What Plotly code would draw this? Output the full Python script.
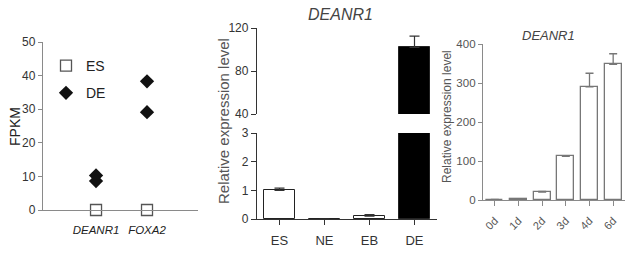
import plotly.graph_objects as go

W, H = 640, 258

# ---------------- data ----------------
# Panel A: FPKM
genes = ["DEANR1", "FOXA2"]
es_fpkm = [0.0, 0.0]
de_genes = ["DEANR1", "DEANR1", "FOXA2", "FOXA2"]
de_fpkm = [10.3, 8.6, 38.3, 29.1]

# Panel B: relative expression across cell types
cell_types = ["ES", "NE", "EB", "DE"]
cell_expr = [1.0, 0.0, 0.1, 102.0]
cell_err = [0.08, 0.0, 0.05, 10.5]

# Panel C: time course
days = ["0d", "1d", "2d", "3d", "4d", "6d"]
day_expr = [1.0, 1.5, 20.0, 112.0, 290.0, 348.0]
day_err = [0.5, 0.5, 2.0, 2.0, 35.0, 27.0]


def fx(px):
    return px / W


def fy(py):
    return (H - py) / H


GREY = "#8a8a8a"
DARK = "#333333"
FONT = "Liberation Sans, Arial, sans-serif"

fig = go.Figure()

# ---------- Panel A ----------
xmap = {g: i + 1 for i, g in enumerate(genes)}
fig.add_trace(go.Scatter(
    x=[xmap[g] for g in genes], y=es_fpkm, mode="markers", name="ES",
    marker=dict(symbol="square-open", size=11, color="#555555", line=dict(width=1.3)),
    cliponaxis=False, xaxis="x", yaxis="y", legendgroup="a",
))
fig.add_trace(go.Scatter(
    x=[xmap[g] for g in de_genes], y=de_fpkm, mode="markers", name="DE",
    marker=dict(symbol="diamond", size=11, color="#111111"),
    cliponaxis=False, xaxis="x", yaxis="y", legendgroup="b",
))

# ---------- Panel B (broken axis) ----------
for xa, ya in (("x2", "y2"), ("x3", "y3")):
    fig.add_trace(go.Bar(
        x=cell_types, y=cell_expr,
        marker=dict(
            color=["white", "white", "white", "black"],
            line=dict(color="#222222", width=1),
            pattern=dict(shape=["", "", "/", ""], fgcolor="#444444", size=4, solidity=0.3),
        ),
        width=0.67,
        error_y=dict(type="data", array=cell_err, arrayminus=[0] * 4,
                     color="#333333", thickness=1.2, width=5),
        xaxis=xa, yaxis=ya, showlegend=False,
    ))

# ---------- Panel C ----------
fig.add_trace(go.Bar(
    x=days, y=day_expr,
    marker=dict(color="white", line=dict(color="#777777", width=1.3)),
    width=0.72,
    error_y=dict(type="data", array=day_err, arrayminus=[0] * 6,
                 color="#777777", thickness=1.3, width=4),
    xaxis="x4", yaxis="y4", showlegend=False,
))

tickfont_b = dict(family=FONT, size=12, color="#333333")
common = dict(automargin=False, showgrid=False, zeroline=False)

fig.update_layout(
    template="none",
    width=W, height=H,
    margin=dict(l=0, r=0, t=0, b=0, pad=0),
    plot_bgcolor="white", paper_bgcolor="white",
    bargap=0,
    showlegend=True,
    legend=dict(x=fx(46), y=fy(50), xanchor="left", yanchor="top",
                font=dict(family=FONT, size=14, color="#222222"),
                bgcolor="rgba(0,0,0,0)", itemwidth=30, borderwidth=0,
                traceorder="grouped", tracegroupgap=6),
    # Panel A axes
    xaxis=dict(domain=[fx(43), fx(198)], range=[-0.04, 3.0],
               tickmode="array", tickvals=[1, 2],
               ticktext=["<i>%s</i>" % g for g in genes],
               tickfont=dict(family=FONT, size=11.5, color="#222222"),
               tickangle=0,
               showline=True, linecolor=GREY, linewidth=1.3, ticks="",
               ticklabelstandoff=9,
               anchor="y", **common),
    yaxis=dict(domain=[fy(210), fy(42)], range=[0, 50],
               tickvals=[0, 10, 20, 30, 40, 50],
               tickfont=dict(family=FONT, size=12, color="#333333"),
               showline=True, linecolor=GREY, linewidth=1.3,
               ticks="outside", ticklen=4, tickcolor=GREY,
               anchor="x", **common),
    # Panel B lower
    xaxis2=dict(domain=[fx(257), fx(437)], range=[-0.5, 3.5],
                tickfont=dict(family=FONT, size=13, color="#333333"),
                tickangle=0,
                showline=True, linecolor=DARK, linewidth=1.3,
                ticks="outside", ticklen=5, tickcolor=DARK, ticklabelstandoff=4,
                anchor="y2", **common),
    yaxis2=dict(domain=[fy(219), fy(133)], range=[0, 3],
                tickmode="array", tickvals=[0, 1, 2, 3], ticktext=["0", "1", "2", "3"],
                tickfont=tickfont_b, showticklabels=True,
                showline=True, linecolor=DARK, linewidth=1.3,
                ticks="outside", ticklen=5, tickcolor=DARK,
                anchor="x2", **common),
    # Panel B upper
    xaxis3=dict(domain=[fx(257), fx(437)], range=[-0.5, 3.5],
                showticklabels=False, showline=False, ticks="",
                anchor="y3", **common),
    yaxis3=dict(domain=[fy(114), fy(28)], range=[40, 120],
                tickmode="array", tickvals=[40, 80, 120], ticktext=["40", "80", "120"],
                tickfont=tickfont_b, showticklabels=True,
                showline=True, linecolor=DARK, linewidth=1.3,
                ticks="outside", ticklen=5, tickcolor=DARK,
                anchor="x3", **common),
    # Panel C
    xaxis4=dict(domain=[fx(483), fx(625)], range=[-0.5, 5.5],
                tickangle=-45, tickfont=dict(family=FONT, size=11, color="#555555"),
                showline=True, linecolor=GREY, linewidth=1.3,
                ticks="outside", ticklen=5, tickcolor=GREY, ticklabelstandoff=4,
                anchor="y4", **common),
    yaxis4=dict(domain=[fy(200), fy(44)], range=[0, 400],
                tickvals=[0, 100, 200, 300, 400],
                tickfont=dict(family=FONT, size=11.5, color="#555555"),
                showline=True, linecolor=GREY, linewidth=1.3,
                ticks="outside", ticklen=4, tickcolor=GREY,
                anchor="x4", **common),
)


def label(text, px, py, size, color, angle=0):
    fig.add_annotation(text=text, x=fx(px), y=fy(py), xref="paper", yref="paper",
                       xanchor="center", yanchor="middle", textangle=angle,
                       showarrow=False, font=dict(family=FONT, size=size, color=color))


label("FPKM", 15, 127, 14, "#222222", -90)
label("<i>DEANR1</i>", 340, 15, 16, "#444444")
label("Relative expression level", 224, 121, 15, "#555555", -90)
label("<i>DEANR1</i>", 548, 35, 13, "#444444")
label("Relative expression level", 447, 117, 12, "#555555", -90)

fig.write_html("out.html")
